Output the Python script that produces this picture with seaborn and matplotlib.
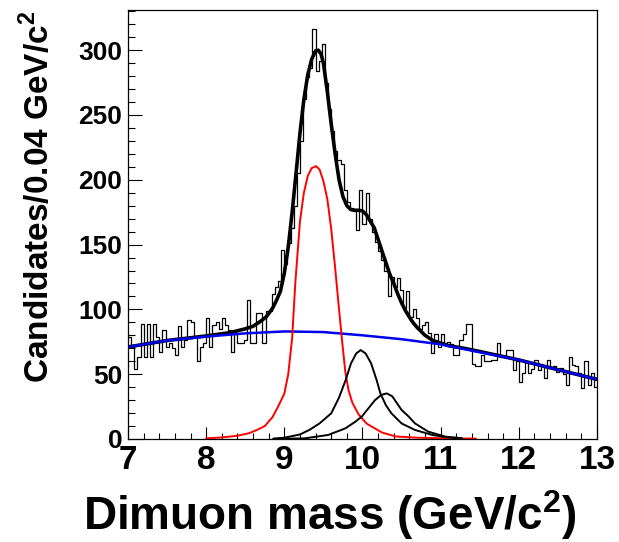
import numpy as np
import pandas as pd
import matplotlib
matplotlib.use("Agg")
import matplotlib.pyplot as plt
from matplotlib.ticker import MultipleLocator
import seaborn as sns

# ---------------- data ----------------
bin_lo, bin_hi, bin_w = 7.0, 13.0, 0.04
counts = [
    79, 71, 54, 63, 89, 63, 89, 63, 89, 79,
    67, 84, 71, 74, 70, 65, 87, 71, 76, 92,
    90, 79, 60, 71, 74, 93, 71, 88, 90, 85,
    93, 88, 84, 67, 81, 74, 74, 76, 107, 74,
    74, 97, 97, 74, 99, 99, 112, 117, 122, 146,
    135, 151, 163, 180, 205, 230, 262, 279, 286, 316,
    284, 292, 305, 275, 255, 238, 222, 215, 212, 192,
    183, 178, 176, 161, 192, 166, 190, 170, 160, 152,
    145, 138, 130, 110, 125, 117, 124, 115, 101, 114,
    94, 100, 93, 85, 88, 90, 82, 66, 81, 71,
    81, 74, 75, 73, 65, 65, 76, 81, 89, 89,
    58, 56, 56, 65, 60, 60, 61, 61, 74, 63,
    63, 69, 69, 53, 60, 44, 51, 60, 51, 54,
    61, 53, 56, 47, 61, 55, 56, 52, 55, 50,
    42, 63, 57, 56, 51, 39, 60, 42, 51, 40,
]

bg_m = [7.0, 7.5, 8.0, 8.5, 9.0, 9.5, 10.0, 10.5, 11.0, 11.5, 12.0, 12.5, 13.0]
bg_v = [71, 76, 79, 81.5, 83, 82.5, 80, 77, 73, 67, 61, 53.5, 46]

tot_m = [7.0, 7.5, 8.0, 8.3, 8.5, 8.6, 8.7, 8.77, 8.85, 8.9, 8.95, 9.0, 9.05, 9.1,
         9.15, 9.2, 9.25, 9.3, 9.35, 9.4, 9.435, 9.47, 9.5, 9.55, 9.6, 9.65, 9.7,
         9.75, 9.8, 9.85, 9.9, 9.95, 10.0, 10.05, 10.1, 10.15, 10.2, 10.26, 10.3,
         10.35, 10.4, 10.45, 10.5, 10.55, 10.6, 10.65, 10.7, 10.8, 10.9, 11.0,
         11.1, 11.3, 11.5, 12.0, 12.5, 13.0]
tot_v = [71, 76, 79.5, 82, 85, 87, 91, 94.3, 101, 107, 114, 128, 148, 175,
         205, 236, 262, 281, 293, 299.5, 300, 297, 290, 268, 243, 220, 200,
         187, 180, 177, 176.5, 176.5, 176, 173, 168, 163, 154, 143, 136,
         127, 120, 112, 105, 99, 94, 89.5, 86, 80, 76, 74,
         72, 70, 67.5, 61, 53.5, 46]

y1s_m = [8.0, 8.2, 8.4, 8.55, 8.65, 8.75, 8.85, 8.92, 9.0, 9.05, 9.1, 9.14, 9.2,
         9.25, 9.3, 9.35, 9.405, 9.45, 9.5, 9.55, 9.6, 9.65, 9.7, 9.74, 9.78,
         9.82, 9.87, 9.95, 10.05, 10.12, 10.25, 10.42, 10.7, 11.0, 11.45]
y1s_v = [0.5, 1.2, 2.5, 4.5, 7, 10, 17, 25, 35, 50, 78, 120, 168,
         190, 203, 209, 210.5, 208, 199, 185, 162, 132, 100, 75, 52,
         38, 28, 19, 12, 9.5, 5, 2, 1, 0.6, 0.3]

y2s_m = [8.86, 9.0, 9.2, 9.32, 9.45, 9.6, 9.7, 9.785, 9.853, 9.92, 9.977, 10.04,
         10.11, 10.18, 10.23, 10.3, 10.37, 10.5, 10.67, 10.9, 11.1, 11.27]
y2s_v = [0.3, 1, 3.5, 7, 12, 19.8, 32, 45.6, 58.4, 66, 68.6, 66,
         58.4, 45.6, 35, 26, 19.8, 12, 7, 3, 1.2, 0.5]

y3s_m = [8.86, 9.26, 9.56, 9.78, 9.9, 9.99, 10.08, 10.16, 10.24, 10.31, 10.38,
         10.5, 10.586, 10.67, 10.84, 11.06, 11.27]
y3s_v = [0.1, 0.5, 3.1, 8.2, 13, 17.2, 24, 30, 34, 35.2, 33,
         22.4, 17.6, 12.1, 5.7, 1.8, 0.6]

x_ticks = [7, 8, 9, 10, 11, 12, 13]
y_ticks = [0, 50, 100, 150, 200, 250, 300]

# ---------------- style ----------------
sns.set_theme(style="ticks")
plt.rcParams["font.family"] = ["Liberation Sans", "DejaVu Sans"]
plt.rcParams["font.weight"] = "bold"
plt.rcParams["text.color"] = "black"
plt.rcParams["axes.labelcolor"] = "black"
plt.rcParams["xtick.color"] = "black"
plt.rcParams["ytick.color"] = "black"
plt.rcParams["mathtext.fontset"] = "custom"
plt.rcParams["mathtext.rm"] = "Liberation Sans:bold"
plt.rcParams["mathtext.bf"] = "Liberation Sans:bold"

fig = plt.figure(figsize=(6.19, 5.42), dpi=100)
ax = fig.add_axes([128 / 619, 1 - 439 / 542, (597 - 128) / 619, (439 - 10) / 542])

n_bins = len(counts)
centers = bin_lo + bin_w * (np.arange(n_bins) + 0.5)
hist_df = pd.DataFrame({"mass": centers, "n": counts})

sns.histplot(data=hist_df, x="mass", weights="n", bins=n_bins,
             binrange=(bin_lo, bin_hi), element="step",
             fill=False, color="black", linewidth=0.9, ax=ax)

sns.lineplot(x=tot_m, y=tot_v, color="black", linewidth=2.6, ax=ax)
sns.lineplot(x=bg_m, y=bg_v, color="#0000ee", linewidth=1.8, ax=ax)
sns.lineplot(x=y1s_m, y=y1s_v, color="#ff0000", linewidth=1.4, ax=ax)
sns.lineplot(x=y2s_m, y=y2s_v, color="black", linewidth=1.4, ax=ax)
sns.lineplot(x=y3s_m, y=y3s_v, color="black", linewidth=1.4, ax=ax)

ax.set_xlim(bin_lo, bin_hi)
ax.set_ylim(0, 331)
ax.set_xticks(x_ticks)
ax.set_yticks(y_ticks)
ax.xaxis.set_minor_locator(MultipleLocator(0.2))
ax.yaxis.set_minor_locator(MultipleLocator(10))
ax.tick_params(axis="x", which="major", direction="in", length=8.6, width=0.8,
               labelsize=24, pad=4, top=False, colors="black")
ax.tick_params(axis="x", which="minor", direction="in", length=4.3, width=0.8, top=False)
ax.tick_params(axis="y", which="major", direction="in", length=10, width=0.8,
               labelsize=19, pad=4, right=False, colors="black")
ax.tick_params(axis="y", which="minor", direction="in", length=5, width=0.8, right=False)
for lab in ax.get_xticklabels() + ax.get_yticklabels():
    lab.set_fontweight("bold")
    lab.set_color("black")

for s in ax.spines.values():
    s.set_visible(True)
    s.set_color("black")
    s.set_linewidth(0.9)

ax.set_xlabel(r"Dimuon mass (GeV/c$^{\mathbf{2}}$)", fontsize=33, fontweight="bold",
              color="black")
ax.xaxis.label.set_verticalalignment("baseline")
ax.xaxis.set_label_coords(0.43, -0.212)
ax.set_ylabel(r"Candidates/0.04 GeV/c$^{\mathbf{2}}$", fontsize=24, fontweight="bold",
              color="black")
ax.yaxis.set_label_coords(-0.154, 0.564)

fig.savefig("out.png", dpi=100)
